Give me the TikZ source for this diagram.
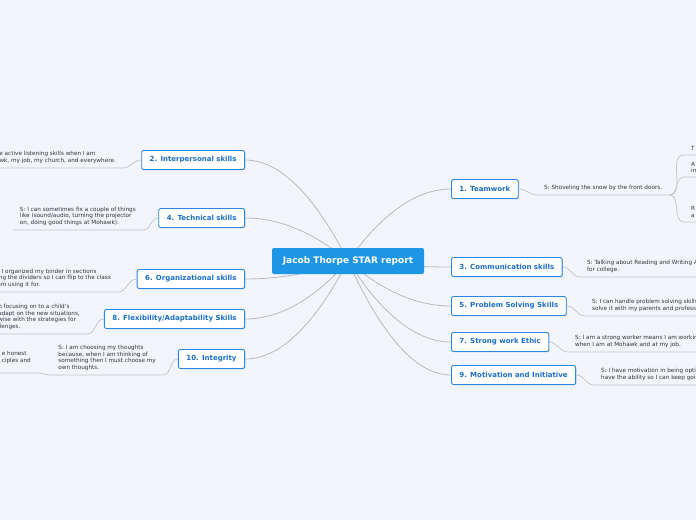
\documentclass[tikz,border=0pt]{standalone}
\usepackage{fontspec}
\setmainfont{DejaVu Sans}
\usepackage{xcolor}
\usetikzlibrary{shadows}
\definecolor{bgcol}{RGB}{243,245,253}
\definecolor{rootblue}{RGB}{29,150,230}
\definecolor{edgeblue}{RGB}{45,135,220}
\definecolor{labelblue}{RGB}{28,110,200}
\definecolor{notegray}{RGB}{50,50,60}
\definecolor{linkgray}{RGB}{185,185,192}
\pgfdeclarelayer{paper}
\pgfdeclarelayer{links}
\pgfsetlayers{paper,links,main}

\begin{document}
\begin{tikzpicture}[x=1pt,y=-1pt,
  root/.style={fill=rootblue,text=white,rounded corners=2pt,minimum width=152pt,minimum height=26pt,font=\bfseries\fontsize{9}{11}\selectfont},
  skill/.style={draw=edgeblue,line width=0.9pt,fill=white,rounded corners=2pt,minimum height=19pt,inner xsep=8pt,text=labelblue,font=\bfseries\fontsize{7}{8}\selectfont,drop shadow={shadow xshift=0.8pt,shadow yshift=-0.8pt,opacity=0.3}},
  note/.style={text=notegray,align=left,inner xsep=7pt,inner ysep=4pt,font=\fontsize{5.7}{6.8}\selectfont},
  link/.style={draw=linkgray,line width=0.8pt},
  sublink/.style={draw=linkgray!85,line width=0.7pt}]
\useasboundingbox (0,0) rectangle (696,520);
\clip (0,0) rectangle (696,520);
\begin{pgfonlayer}{paper}
\fill[bgcol] (0,0) rectangle (696,520);
\end{pgfonlayer}

\node[root] (root) at (348,261) {Jacob Thorpe STAR report};

% left side
\node[skill,anchor=east] (inter) at (245,160) {2. Interpersonal skills};
\node[skill,anchor=east] (tech) at (245,218) {4. Technical skills};
\node[skill,anchor=east] (org) at (245,279) {6. Organizational skills};
\node[skill,anchor=east] (flex) at (245,319) {8. Flexibility/Adaptability Skills};
\node[skill,anchor=east] (integ) at (245,359) {10. Integrity};

% right side
\node[skill,anchor=west] (team) at (451,189) {1. Teamwork};
\node[skill,anchor=west] (comm) at (451,267) {3. Communication skills};
\node[skill,anchor=west] (prob) at (451,306) {5. Problem Solving Skills};
\node[skill,anchor=west] (eth) at (451,342) {7. Strong work Ethic};
\node[skill,anchor=west] (mot) at (451,375) {9. Motivation and Initiative};

% situations
\node[note,anchor=south east] (sInter) at (123,168) {ve active listening skills when I am\\awk, my job, my church, and everywhere.};
\node[note,anchor=south east] (sTech) at (143,230) {S: I can sometimes fix a couple of things\\like (sound/audio, turning the projector\\on, doing good things at Mohawk).};
\node[note,anchor=south east] (sOrg) at (118,292) {: I organized my binder in sections\\ing the dividers so I can flip to the class\\am using it for.};
\node[note,anchor=south east] (sFlex) at (87,334) {n focusing on to a child's\\adapt on the new situations,\\wise with the strategies for\\llenges.};
\node[note,anchor=south east] (sInteg) at (163,375) {S: I am choosing my thoughts\\because, when I am thinking of\\something then I must choose my\\own thoughts.};
\node[note,anchor=south east] (sHon) at (38,373) {e honest\\ciples and\\\mbox{}};

\node[note,anchor=south west] (sTeam) at (537,195) {S: Shoveling the snow by the front doors.};
\node[note,anchor=south west] (tT) at (684,155) {T};
\node[note,anchor=south west] (tA) at (684,177) {A\\in};
\node[note,anchor=south west] (tR) at (684,222) {R\\a};
\node[note,anchor=south west] (sComm) at (580,277) {S: Talking about Reading and Writing A\\for college.};
\node[note,anchor=south west] (sProb) at (585,316) {S: I can handle problem solving skills\\solve it with my parents and professo};
\node[note,anchor=south west] (sEth) at (568,352) {S: I am a strong worker means I am workin\\when I am at Mohawk and at my job.};
\node[note,anchor=south west] (sMot) at (594,385) {S: I have motivation in being opti\\have the ability so I can keep goin};

\begin{pgfonlayer}{links}
\draw[link] (root.center) .. controls +(-34.3,-67.3) and +(34.3,0) .. (inter.east);
\draw[link] (root.center) .. controls +(-34.3,-28.7) and +(34.3,0) .. (tech.east);
\draw[link] (root.center) .. controls +(-34.3,12) and +(34.3,0) .. (org.east);
\draw[link] (root.center) .. controls +(-34.3,38.7) and +(34.3,0) .. (flex.east);
\draw[link] (root.center) .. controls +(-34.3,65.3) and +(34.3,0) .. (integ.east);
\draw[link] (root.center) .. controls +(34.3,-48) and +(-34.3,0) .. (team.west);
\draw[link] (root.center) .. controls +(34.3,4) and +(-34.3,0) .. (comm.west);
\draw[link] (root.center) .. controls +(34.3,30) and +(-34.3,0) .. (prob.west);
\draw[link] (root.center) .. controls +(34.3,54) and +(-34.3,0) .. (eth.west);
\draw[link] (root.center) .. controls +(34.3,76) and +(-34.3,0) .. (mot.west);

\draw[sublink] (inter.west) to[out=180,in=0] (sInter.south east) -- (sInter.south west);
\draw[sublink] (tech.west) to[out=180,in=0] (sTech.south east) -- (sTech.south west);
\draw[sublink] (org.west) to[out=180,in=0] (sOrg.south east) -- (sOrg.south west);
\draw[sublink] (flex.west) to[out=180,in=0] (sFlex.south east) -- (sFlex.south west);
\draw[sublink] (integ.west) to[out=180,in=0] (sInteg.south east) -- (sInteg.south west);
\draw[sublink] (sInteg.south west) to[out=180,in=0] (sHon.south east) -- (sHon.south west);

\draw[sublink] (team.east) to[out=0,in=180] (sTeam.south west) -- (sTeam.south east);
\draw[sublink] (sTeam.south east) to[out=0,in=180] (tT.south west) -- (tT.south east);
\draw[sublink] (sTeam.south east) to[out=0,in=180] (tA.south west) -- (tA.south east);
\draw[sublink] (sTeam.south east) to[out=0,in=180] (tR.south west) -- (tR.south east);
\draw[sublink] (comm.east) to[out=0,in=180] (sComm.south west) -- (sComm.south east);
\draw[sublink] (prob.east) to[out=0,in=180] (sProb.south west) -- (sProb.south east);
\draw[sublink] (eth.east) to[out=0,in=180] (sEth.south west) -- (sEth.south east);
\draw[sublink] (mot.east) to[out=0,in=180] (sMot.south west) -- (sMot.south east);
\end{pgfonlayer}
\end{tikzpicture}
\end{document}
